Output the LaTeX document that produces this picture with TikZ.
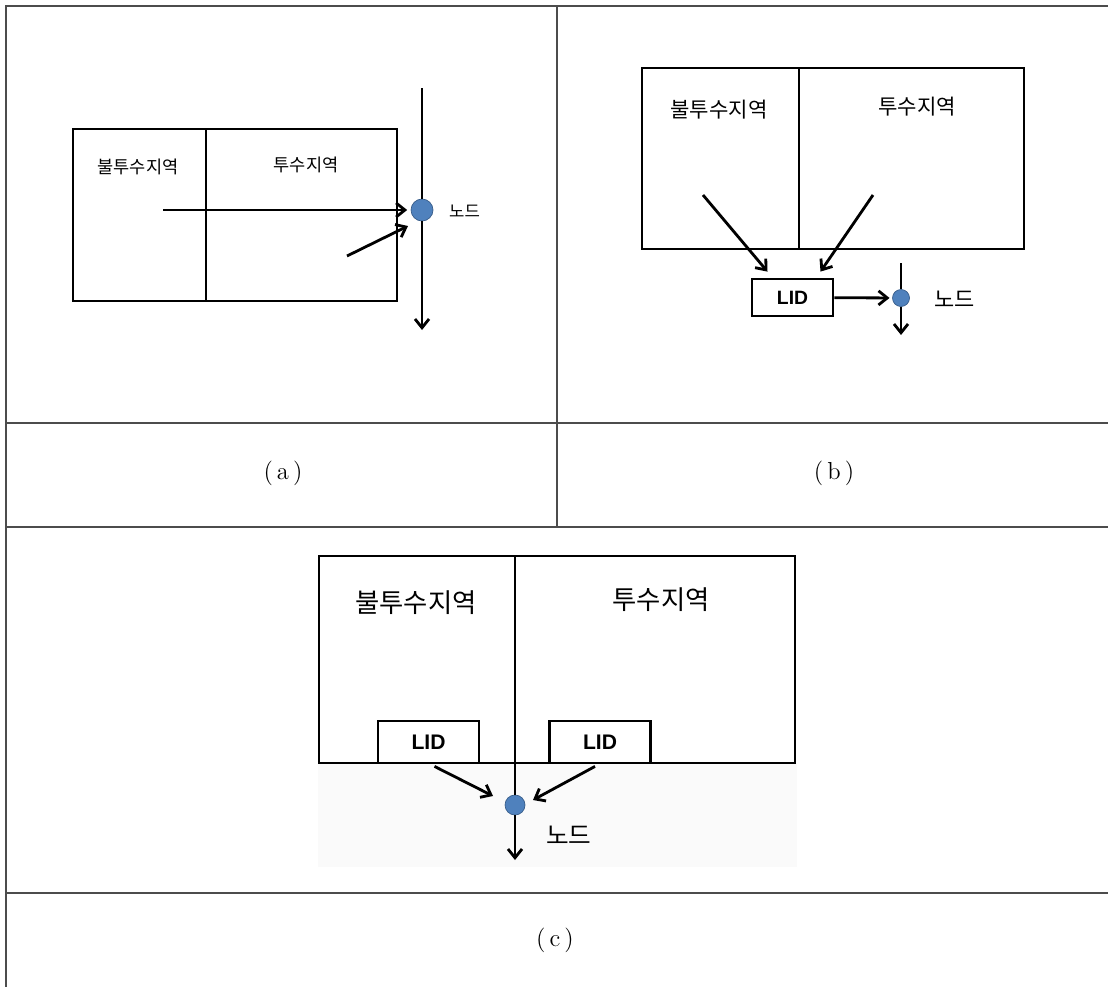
\documentclass[tikz,border=0pt]{standalone}
\usepackage{fontspec}
\newfontfamily\kr{Noto Sans CJK KR}
\newfontfamily\lidfont{Liberation Sans}
\usetikzlibrary{arrows.meta, calc}
\definecolor{nodeblue}{HTML}{4F81BD}
\definecolor{nodeedge}{HTML}{385D8A}

\begin{document}
\begin{tikzpicture}[
    x=0.02cm, y=-0.02cm,
    >={Straight Barb[length=5pt,width=8pt]},
    tbl/.style={line width=0.9pt, draw=black!70},
    area/.style={draw, line width=1.65pt},
    lid/.style={draw, line width=1.6pt, fill=white, inner sep=0pt, font=\lidfont\bfseries},
    junc/.style={circle, fill=nodeblue, draw=nodeedge, line width=0.4pt, inner sep=0pt},
    flow/.style={->, line width=1.6pt},
    captxt/.style={font=\fontsize{14}{16}\selectfont}
]
\useasboundingbox (0,0) rectangle (1108,987);

% TABLE
\draw[tbl] (1108,6) -- (6,6) -- (6,987);
\draw[tbl] (6,423) -- (1108,423);
\draw[tbl] (6,527) -- (1108,527);
\draw[tbl] (6,893) -- (1108,893);
\draw[tbl] (557,6) -- (557,527);

% CAPTIONS
\node[captxt] (a-cap) at (283,473) {(\,a\,)};
\node[captxt] (b-cap) at (834,473) {(\,b\,)};
\node[captxt] (c-cap) at (555,940) {(\,c\,)};

% PANEL (a)
\draw[area] (73,129) rectangle (397,301);
\draw[area] (206,129) -- (206,301);
\node[font=\kr\fontsize{10}{12}\selectfont] (a-imp) at (138,167) {불투수지역};
\node[font=\kr\fontsize{10}{12}\selectfont] (a-perv) at (306,165) {투수지역};

\node[junc, minimum size=0.44cm] (a-node) at (422,210) {};
\node[anchor=west, font=\kr\fontsize{9.5}{11}\selectfont] (a-lbl) at (443,211) {노드};
\coordinate (a-top) at (422,88);
\coordinate (a-bot) at (422,330);
\coordinate (a-src1) at (163,210);
\coordinate (a-src2) at (347,256);

\draw[line width=1.6pt] (a-top) -- (a-node);
\draw[flow] (a-node) -- (a-bot);
\draw[flow, shorten >=2pt] (a-src1) -- (a-node);
\draw[flow] (a-src2) -- ($(a-node)+(-14,16)$);

% PANEL (b)
\draw[area] (642,68) rectangle (1024,249);
\draw[area] (799,68) -- (799,249);
\node[font=\kr\fontsize{12}{14}\selectfont] (b-imp) at (719,110) {불투수지역};
\node[font=\kr\fontsize{12}{14}\selectfont] (b-perv) at (917,107) {투수지역};

\node[lid, minimum width=1.62cm, minimum height=0.74cm, font=\lidfont\bfseries\fontsize{11}{13}\selectfont] (b-lid) at (792.5,297.5) {LID};
\node[junc, minimum size=0.34cm] (b-node) at (901,298) {};
\node[anchor=west, font=\kr\fontsize{12.5}{14}\selectfont] (b-lbl) at (928,299) {노드};
\coordinate (b-src1) at (703,195);
\coordinate (b-src2) at (873,195);
\coordinate (b-top) at (901,263);
\coordinate (b-bot) at (901,335);

\draw[flow] (b-src1) -- ($(b-lid.north)+(-25,-6)$);
\draw[flow] (b-src2) -- ($(b-lid.north)+(28,-6)$);
\draw[flow, shorten >=1.5pt] (b-lid) -- (b-node);
\draw[line width=1.6pt] (b-top) -- (b-node);
\draw[flow] (b-node) -- (b-bot);

% PANEL (c)
\fill[black!2] (318,763) rectangle (797,867);
\draw[area] (319,556) rectangle (795,763);
\node[font=\kr\fontsize{15}{17}\selectfont] (c-imp) at (416,603) {불투수지역};
\node[font=\kr\fontsize{15}{17}\selectfont] (c-perv) at (661,600) {투수지역};

\node[lid, minimum width=2.02cm, minimum height=0.84cm, font=\lidfont\bfseries\fontsize{12}{14}\selectfont] (c-lid1) at (428.5,742) {LID};
\node[lid, minimum width=2.02cm, minimum height=0.84cm, font=\lidfont\bfseries\fontsize{12}{14}\selectfont] (c-lid2) at (600,742) {LID};
\node[junc, minimum size=0.40cm] (c-node) at (515,805) {};
\node[anchor=west, font=\kr\fontsize{14}{16}\selectfont] (c-lbl) at (540,835) {노드};
\coordinate (c-top) at (515,556);
\coordinate (c-bot) at (515,860);

\draw[line width=1.65pt] (c-top) -- (c-node);
\draw[flow] (c-node) -- (c-bot);
\draw[flow] ($(c-lid1.south)+(6,2)$) -- ($(c-node)+(-22,-9)$);
\draw[flow] ($(c-lid2.south)+(-5,2)$) -- ($(c-node)+(18,-5)$);

\end{tikzpicture}
\end{document}
